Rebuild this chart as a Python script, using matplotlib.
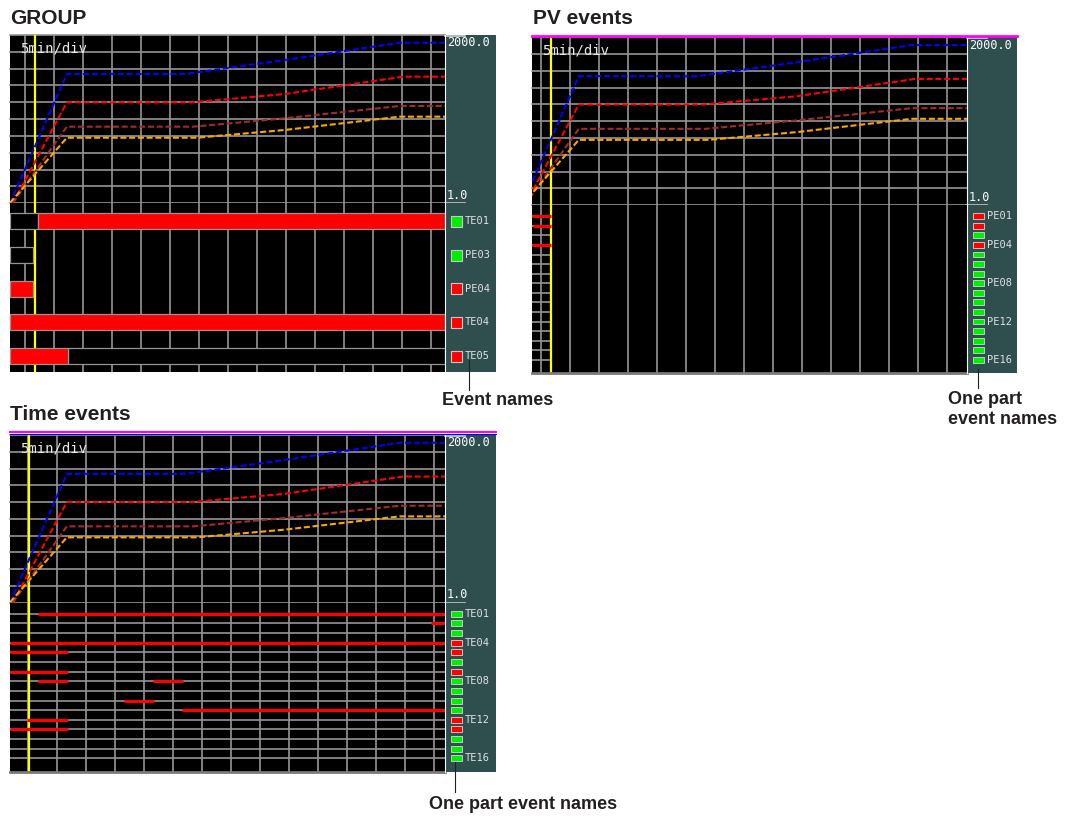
import matplotlib
matplotlib.use('Agg')
import matplotlib.pyplot as plt
import numpy as np
from matplotlib.patches import Rectangle
from matplotlib.lines import Line2D

W, H = 1070, 816
INK = '#231f20'
TEAL = '#2f4f4f'
GRID = '#959595'
RED = '#ff0000'
GREEN = '#00ee00'
MONO = 'DejaVu Sans Mono'
SANS = 'Liberation Sans'

# ---- trend data (minutes on the GROUP time base, value in 1.0 .. 2000.0) ----
scale_lo, scale_hi = 1.0, 2000.0
span_min = 75          # 15 div x 5 min
trace_colors = ['#0000ff', '#ff0000', '#a52a2a', '#ffa500']
blue_t = [0.0, 9.8, 30.2, 47.4, 67.2, 80]
blue_v = [1, 1537, 1537, 1703, 1908, 1908]
red_t = [0.5, 9.8, 31.3, 47.4, 67.8, 80]
red_v = [1, 1200, 1200, 1299, 1505, 1505]
brown_t = [0.45, 9.8, 31.6, 47.4, 67.2, 80]
brown_v = [1, 911, 911, 1011, 1157, 1157]
orange_t = [0.0, 9.8, 32.2, 47.4, 67.2, 80]
orange_v = [6, 780, 780, 872, 1030, 1030]
traces = [(blue_t, blue_v), (red_t, red_v), (brown_t, brown_v), (orange_t, orange_v)]

# ---- GROUP events (minutes from left edge) ----
group_names = ['TE01', 'PE03', 'PE04', 'TE04', 'TE05']
group_lamps = ['g', 'g', 'r', 'r', 'r']
group_on = [[(4.83, 75)], [], [(0, 4.0)], [(0, 75)], [(0, 9.95)]]
group_off = [[(0, 4.83)], [(0, 4.0)], [], [], [(9.95, 75)]]

# ---- PV events ----
pv_labels = ['PE01', '', '', 'PE04', '', '', '', 'PE08', '', '', '', 'PE12', '', '', '', 'PE16']
pv_lamps = list('rrgrgggggggggggg')
pv_on = {0: [(0, 3.28)], 1: [(0.17, 3.28)], 3: [(0, 3.28)]}
pv_logged = (0, 3.28)

# ---- Time events ----
te_labels = ['TE01', '', '', 'TE04', '', '', '', 'TE08', '', '', '', 'TE12', '', '', '', 'TE16']
te_lamps = list('gggrrgrggggrrggg')
te_on = {0: [(4.78, 75)], 1: [(72.6, 75)], 3: [(0, 75)], 4: [(0, 9.95)],
         6: [(0, 9.95)], 7: [(4.78, 9.95), (24.7, 29.8)], 9: [(19.7, 24.8)],
         10: [(29.7, 75)], 11: [(2.98, 9.95)], 12: [(0, 9.95)]}
te_logged = (0, 75)

fig = plt.figure(figsize=(W / 100, H / 100), dpi=100)
fig.patch.set_facecolor('white')


def fx(px):
    return px / W


def fy(py):
    return 1 - py / H


def px_axes(x0, y0, x1, y1, color):
    ax = fig.add_axes([x0 / W, 1 - y1 / H, (x1 - x0) / W, (y1 - y0) / H])
    ax.set_facecolor(color)
    ax.set_xticks([])
    ax.set_yticks([])
    for s in ax.spines.values():
        s.set_visible(False)
    return ax


def vgrid(ax, grid_off):
    for t in np.arange(grid_off, span_min, 5):
        ax.axvline(t, color=GRID, lw=1.2, zorder=1)


def trend_part(g):
    x0, x1, xs1, y0, y1 = g['x0'], g['x1'], g['xs1'], g['y0'], g['y1']
    ax = px_axes(x0, y0, x1, y1, 'black')
    ax.set_xlim(0, span_min)
    ax.set_ylim(scale_lo, scale_hi)
    for k in range(11):
        ax.axhline(scale_lo + (scale_hi - scale_lo) * k / 10, color=GRID, lw=1.2,
                   zorder=1, clip_on=False)
    vgrid(ax, g['grid'])
    ax.axvline(g['yellow'], color='#ffff00', lw=1.6, zorder=2)
    for (t, v), c in zip(traces, trace_colors):
        ax.plot(np.array(t) - g['shift'], v, color=c, lw=1.5, ls=(0, (2.9, 1.3)), zorder=3)
    ax.text(10 / (x1 - x0), 1 - 13 / (y1 - y0), '5min/div', transform=ax.transAxes,
            color='#e8e8e8', family=MONO, fontsize=10, va='center', ha='left')

    side = px_axes(x1, y0, xs1, y1, TEAL)
    w, h = xs1 - x1, y1 - y0
    side.set_xlim(0, w)
    side.set_ylim(h, 0)
    side.spines['left'].set_visible(True)
    side.spines['left'].set_color('white')
    side.text(2, 8, '2000.0', color='white', family=MONO, fontsize=8.5, va='center')
    side.text(2, h - 8, '1.0', color='white', family=MONO, fontsize=8.5, va='center')
    side.plot([0, 20], [0.5, 0.5], color='#d0d0d0', lw=1.2, clip_on=False)
    side.plot([0, 20], [h, h], color='#b0b0b0', lw=1.4, clip_on=False)


def group_events(g):
    x0, x1, xs1, y1, y2 = g['x0'], g['x1'], g['xs1'], g['y1'], g['y2']
    ax = px_axes(x0, y1, x1, y2, 'black')
    ax.set_xlim(0, span_min)
    ax.set_ylim(10, 0)
    vgrid(ax, g['grid'])
    ax.axvline(g['yellow'], color='#ffff00', lw=1.6, zorder=2)
    for i in range(len(group_names)):
        for spans, fc in ((group_off[i], 'black'), (group_on[i], RED)):
            for a, b in spans:
                ax.add_patch(Rectangle((a, 2 * i + 0.6), b - a, 0.95, fc=fc, ec=GRID,
                                       lw=0.9, zorder=4))
    side = px_axes(x1, y1, xs1, y2, TEAL)
    side.set_xlim(0, xs1 - x1)
    side.set_ylim(10, 0)
    side.spines['left'].set_visible(True)
    side.spines['left'].set_color('white')
    for i, (name, lamp) in enumerate(zip(group_names, group_lamps)):
        yc = 2 * i + 1.075
        side.add_patch(Rectangle((6, yc - 0.33), 11, 0.66, fc=GREEN if lamp == 'g' else RED,
                                 ec='#c8c8c8', lw=0.8))
        side.text(20, yc, name, color='#e0e0e0', family=MONO, fontsize=7.5, va='center')


def line_events(g, labels, lamps, on, logged):
    x0, x1, xs1, y1, y2 = g['x0'], g['x1'], g['xs1'], g['y1'], g['y2']
    ax = px_axes(x0, y1, x1, y2, 'black')
    ax.set_xlim(0, span_min)
    ax.set_ylim(16.41, -1.14)
    vgrid(ax, g['grid'])
    ax.axvline(g['yellow'], color='#ffff00', lw=1.6, zorder=2)
    for i in range(len(labels)):
        ax.plot(logged, [i, i], color=GRID, lw=1.2, zorder=1)
        for a, b in on.get(i, []):
            ax.plot([a, b], [i, i], color=RED, lw=2.3, zorder=4, solid_capstyle='butt')
    ax.axhline(16.41, color='#7a7a7a', lw=2, clip_on=False)
    side = px_axes(x1, y1, xs1, y2, TEAL)
    side.set_xlim(0, xs1 - x1)
    side.set_ylim(16.41, -1.14)
    side.spines['left'].set_visible(True)
    side.spines['left'].set_color('white')
    for i, (name, lamp) in enumerate(zip(labels, lamps)):
        side.add_patch(Rectangle((6, i - 0.31), 11, 0.62, fc=GREEN if lamp == 'g' else RED,
                                 ec='#d8d8d8', lw=0.6))
        if name:
            side.text(20, i, name, color='#e0e0e0', family=MONO, fontsize=7.5, va='center')


group = dict(x0=10, x1=445, xs1=496, y0=35, y1=203.3, y2=371.7, grid=2.5, yellow=4.31, shift=0)
pv = dict(x0=532, x1=967, xs1=1017, y0=37.3, y1=205.3, y2=373.3, grid=1.6, yellow=3.28, shift=1.73)
tev = dict(x0=10, x1=445, xs1=496, y0=435, y1=602.7, y2=772, grid=3.05, yellow=3.28, shift=0)

trend_part(group)
group_events(group)
trend_part(pv)
line_events(pv, pv_labels, pv_lamps, pv_on, pv_logged)
trend_part(tev)
line_events(tev, te_labels, te_lamps, te_on, te_logged)

# coloured bars over the PV / Time screens
fig.add_artist(Line2D([fx(532), fx(1017)], [fy(35.5)] * 2, color='#ff00ff', lw=2))
fig.add_artist(Line2D([fx(10), fx(496)], [fy(432.4)] * 2, color='#ff00ff', lw=1.5))
fig.add_artist(Line2D([fx(10), fx(496)], [fy(433.8)] * 2, color='#0000ff', lw=0.8))

# titles
fig.text(fx(10), fy(18), 'GROUP', family=SANS, weight='bold', fontsize=15, color=INK, va='center')
fig.text(fx(533), fy(18), 'PV events', family=SANS, weight='bold', fontsize=15, color=INK, va='center')
fig.text(fx(10), fy(414), 'Time events', family=SANS, weight='bold', fontsize=15, color=INK, va='center')

# call-outs
fig.add_artist(Line2D([fx(469)] * 2, [fy(360), fy(390)], color=INK, lw=0.8))
fig.text(fx(498), fy(392), 'Event names', family=SANS, weight='bold', fontsize=13,
         color=INK, ha='center', va='top')
fig.add_artist(Line2D([fx(977.7)] * 2, [fy(369), fy(388)], color=INK, lw=0.8))
fig.text(fx(948), fy(391), 'One part\nevent names', family=SANS, weight='bold', fontsize=13,
         color=INK, ha='left', va='top', linespacing=1.2)
fig.add_artist(Line2D([fx(454.5)] * 2, [fy(762), fy(792)], color=INK, lw=0.8))
fig.text(fx(523), fy(796), 'One part event names', family=SANS, weight='bold', fontsize=13,
         color=INK, ha='center', va='top')

fig.savefig('out.png', dpi=100, facecolor='white')
